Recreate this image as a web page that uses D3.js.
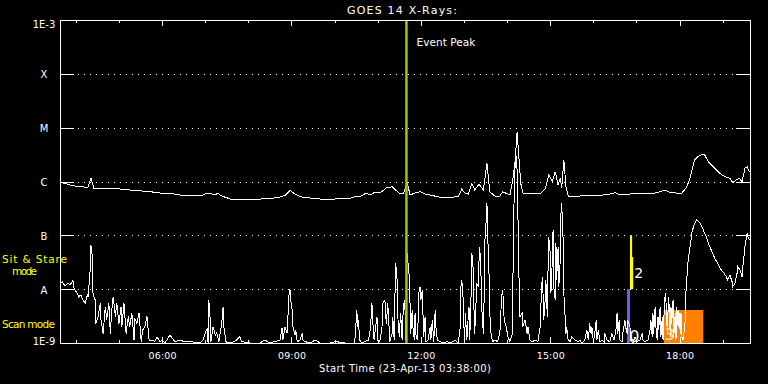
<!DOCTYPE html>
<html>
<head>
<meta charset="utf-8">
<script src="https://cdn.jsdelivr.net/npm/d3@7"></script>
<style>
  body { margin: 0; background: #000; }
  svg { display: block; background: #000; }
  text { font-family: "DejaVu Sans", sans-serif; fill: #fff; }
</style>
</head>
<body>
<div id="content"></div>
<script>
// time range of the plot (UT)
var startTime = "2013-04-23T03:38:00Z";
var endTime = "2013-04-23T19:38:00Z";
var eventPeak = "2013-04-23T11:40:00Z";

// flux levels on the y axis
var levelValues = [1e-9, 1e-8, 1e-7, 1e-6, 1e-5, 1e-4, 1e-3];
var levelLabels = ["1E-9", "A", "B", "C", "M", "X", "1E-3"];

// 1-8 A channel: [minutes after start, flux W/m2]
var longChannel = [[0,9.6e-7],[7,9.25e-7],[14,8.6e-7],[22,8.2e-7],[33,7.9e-7],[39,7.9e-7],[43,1.16e-6],[47,7.57e-7],[56,7.57e-7],[67,7.4e-7],[77,7.57e-7],[83,7.25e-7],[90,7.25e-7],[97,6.95e-7],[109,6.95e-7],[118,6.46e-7],[128,6.4e-7],[139,6.11e-7],[153,6.0e-7],[167,5.61e-7],[181,5.61e-7],[195,5.37e-7],[202,5.86e-7],[209,6.11e-7],[214,5.61e-7],[220,6.0e-7],[225,5.37e-7],[237,4.73e-7],[257,4.73e-7],[275,4.53e-7],[285,4.93e-7],[295,4.85e-7],[306,5.15e-7],[314,5.61e-7],[320,6.8e-7],[327,5.86e-7],[334,5.21e-7],[348,4.93e-7],[362,4.73e-7],[383,4.73e-7],[403,4.85e-7],[413,5.37e-7],[417,5.15e-7],[426,6.11e-7],[431,5.61e-7],[438,6.3e-7],[445,6.11e-7],[454,7.57e-7],[462,8.0e-7],[467,6.95e-7],[473,5.86e-7],[478,6.11e-7],[483,9.6e-7],[487,5.61e-7],[494,6.11e-7],[501,6.46e-7],[508,5.86e-7],[515,5.61e-7],[529,5.08e-7],[543,5.08e-7],[554,5.25e-7],[559,7.25e-7],[563,6.11e-7],[568,5.86e-7],[573,9.25e-7],[577,6.95e-7],[583,9.0e-7],[589,6.95e-7],[594,2.18e-6],[598,6.46e-7],[605,5.37e-7],[612,5.37e-7],[616,6.46e-7],[626,5.61e-7],[630,1.07e-6],[633,2.2e-6],[636,8.41e-6],[639,2.2e-6],[641,9.3e-7],[644,6.11e-7],[654,5.86e-7],[668,5.86e-7],[675,7.25e-7],[680,1.32e-6],[685,9.9e-7],[689,1.52e-6],[693,8.6e-7],[696,1.16e-6],[698,7.57e-7],[701,2.51e-6],[704,8.0e-7],[707,5.37e-7],[723,5.37e-7],[737,5.61e-7],[751,5.5e-7],[765,5.86e-7],[772,6.19e-7],[779,5.7e-7],[793,5.86e-7],[807,5.86e-7],[821,5.86e-7],[832,6.3e-7],[842,6.95e-7],[849,6.19e-7],[857,6.11e-7],[865,6.05e-7],[871,7.57e-7],[876,1.07e-6],[880,1.78e-6],[883,2.51e-6],[887,2.86e-6],[892,3.11e-6],[897,3.11e-6],[902,2.33e-6],[907,2.0e-6],[911,1.76e-6],[918,1.42e-6],[925,1.23e-6],[932,1.15e-6],[936,9.5e-7],[941,1.07e-6],[945,1.15e-6],[949,9.9e-7],[953,1.76e-6],[956,1.88e-6],[959,1.52e-6]];

// 0.5-4 A channel: [minutes after start, flux W/m2]
var shortChannel = [[0,1.2e-8],[3,1.38e-8],[7,1.15e-8],[11,1.31e-8],[14,1.2e-8],[18,1.44e-8],[19,1.1e-8],[21,9.6e-9],[24,8.4e-9],[26,7.2e-9],[29,7.8e-9],[32,6.3e-9],[35,5.5e-9],[38,7.8e-9],[39,7.2e-9],[42,2.27e-8],[43,6.6e-8],[45,4.0e-8],[46,7.8e-9],[49,6.3e-9],[50,2.3e-9],[53,3.1e-9],[56,5.5e-9],[57,2.7e-9],[60,1.5e-9],[63,4.7e-9],[65,2.7e-9],[68,5.5e-9],[70,1.5e-9],[72,4.1e-9],[74,7.2e-9],[77,3.1e-9],[79,5.5e-9],[82,2.3e-9],[85,4.7e-9],[86,2.0e-9],[89,5.5e-9],[92,1.5e-9],[95,3.1e-9],[97,2.0e-9],[100,3.6e-9],[103,1.13e-9],[104,2.9e-9],[107,2.3e-9],[110,3.6e-9],[113,1.06e-9],[115,1.74e-9],[118,2.0e-9],[121,3.1e-9],[124,1.13e-9],[128,1.13e-9],[132,1.06e-9],[135,1.31e-9],[139,1.06e-9],[142,1.13e-9],[146,1.0e-9],[153,1.4e-9],[160,1.06e-9],[167,1.13e-9],[173,1.06e-9],[181,1.06e-9],[195,1.0e-9],[199,1.13e-9],
  [202,1.53e-9],[205,1.9e-9],[206,1.0e-9],[207,6.3e-9],[209,2.67e-9],[210,1.06e-9],[213,2.0e-9],[216,1.4e-9],[218,1.53e-9],[221,1.06e-9],[225,2.3e-9],[227,4.72e-9],[228,2.0e-9],[231,1.06e-9],[234,1.0e-9],[243,1.06e-9],[250,1.31e-9],[253,1.06e-9],[264,1.0e-9],[278,1.0e-9],[285,1.13e-9],[289,1.06e-9],[292,1.0e-9],[306,1.13e-9],[309,1.9e-9],[310,1.13e-9],[313,2.0e-9],[316,1.53e-9],[319,9.9e-9],[320,9.9e-9],[321,6.3e-9],[323,4.1e-9],[324,2.0e-9],[327,1.4e-9],[328,1.74e-9],[330,1.06e-9],[334,1.13e-9],[337,1.53e-9],[338,1.13e-9],[341,1.06e-9],[348,1.0e-9],[355,1.13e-9],[362,1.0e-9],[376,1.0e-9],[384,1.06e-9],[397,1.0e-9],[410,1.0e-9],
  [413,4.1e-9],[414,2.0e-9],[415,2.67e-9],[417,1.13e-9],[420,1.0e-9],[424,1.06e-9],[429,1.13e-9],[431,1.5e-9],[433,3.08e-9],[434,5.46e-9],[435,2.67e-9],[437,1.13e-9],[438,1.5e-9],[441,3.08e-9],[442,1.13e-9],[445,1.06e-9],[448,2.0e-9],[449,5.46e-9],[452,6.29e-9],[454,2.3e-9],[456,5.46e-9],[459,1.06e-9],[462,1.5e-9],[463,3.08e-9],[465,1.13e-9],[466,7.24e-9],[467,3.02e-8],[469,1.48e-8],[470,3.08e-9],[472,1.31e-9],[473,2.3e-9],[474,3.56e-9],[476,1.13e-9],[477,3.08e-9],[479,6.29e-9],[480,4.1e-9],[481,1.13e-9],
  [483,4.63e-8],[486,1.7e-8],[487,5.46e-9],[488,1.5e-9],[490,4.1e-9],[491,2.0e-9],[493,1.13e-9],[494,3.56e-9],[495,1.5e-9],[497,1.13e-9],[498,2.0e-9],[499,8.37e-9],[501,1.11e-8],[502,6.29e-9],[504,9.64e-9],[505,3.56e-9],[506,1.3e-9],[508,3.08e-9],[509,1.06e-9],[512,1.13e-9],[515,2.0e-9],[516,1.13e-9],[518,2.67e-9],[520,1.06e-9],[522,4.1e-9],[523,2.0e-9],[525,1.13e-9],[529,1.06e-9],[533,1.0e-9],[538,1.06e-9],[543,1.0e-9],[550,1.13e-9],[554,1.0e-9],[557,2.0e-9],[558,1.28e-8],[559,1.48e-8],[561,6.29e-9],[562,2.0e-9],[563,1.06e-9],[564,3.56e-9],[566,1.13e-9],[568,3.08e-9],[569,4.72e-9],[570,1.13e-9],[572,8.37e-9],[573,4.63e-8],[575,2.27e-8],[576,4.1e-9],[577,1.5e-9],[579,6.29e-9],[580,1.28e-8],[582,1.11e-8],[583,3.48e-8],[584,6.15e-8],[586,1.48e-8],[587,4.1e-9],[589,1.5e-9],[590,6.29e-9],[591,7.11e-8],[593,1.93e-7],[594,3.94e-7],[595,1.09e-7],[597,1.7e-8],[598,3.56e-9],[600,1.31e-9],[602,1.06e-9],[605,1.13e-9],[609,1.06e-9],[612,1.53e-9],[614,5.46e-9],[615,8.37e-9],[616,9.64e-9],[618,2.67e-9],[621,2.0e-9],[623,1.31e-9],[626,1.06e-9],[629,1.4e-9],[630,1.11e-8],[632,8.0e-7],[634,3.53e-6],[636,1.63e-6],[637,2.95e-7],[639,8.37e-9],[640,3.08e-9],[643,3.56e-9],[644,2.0e-9],[647,2.67e-9],[650,1.5e-9],[651,2.0e-9],[654,1.13e-9],[657,1.06e-9],[661,1.13e-9],[665,1.06e-9],
  [668,2.0e-9],[669,4.72e-9],[671,1.7e-8],[672,8.37e-9],[673,2.67e-9],[675,6.29e-9],[676,1.48e-8],[678,3.08e-9],[679,2.27e-8],[680,9.42e-8],[682,4.63e-8],[683,8.37e-9],[685,3.48e-8],[686,1.26e-7],[687,1.11e-8],[689,6.29e-9],[690,7.11e-8],[691,1.48e-8],[693,6.15e-8],[694,1.11e-8],[696,3.48e-8],[697,2.56e-7],[698,3.94e-7],[700,8.19e-8],[701,8.37e-9],[703,2.67e-9],[704,1.5e-9],[705,2.0e-9],[707,1.13e-9],[710,1.06e-9],[712,1.31e-9],[717,1.13e-9],[721,1.06e-9],[723,1.13e-9],[726,1.0e-9],[730,1.13e-9],[733,1.74e-9],[735,1.13e-9],[737,2.3e-9],[739,1.5e-9],[740,2.0e-9],[742,1.06e-9],[744,1.5e-9],[746,2.67e-9],[747,1.13e-9],[749,1.74e-9],[751,1.06e-9],[754,1.13e-9],[757,1.06e-9],[758,1.5e-9],[761,1.13e-9],[765,1.06e-9],[768,1.5e-9],[771,1.13e-9],[774,2.0e-9],[775,3.56e-9],[776,1.5e-9],[778,2.67e-9],[779,1.13e-9],[782,1.06e-9],[783,1.5e-9],[786,2.67e-9],[787,2.0e-9],[789,1.5e-9],[790,2.67e-9],[793,2.0e-9],[794,1.13e-9],[797,1.0e-9],[800,1.31e-9],[803,1.06e-9],[807,1.13e-9],[810,1.5e-9],[811,1.13e-9],[814,1.06e-9],[818,1.13e-9],[821,1.74e-9],[822,2.67e-9],[824,1.31e-9],[825,3.56e-9],[826,1.5e-9],[828,4.72e-9],[829,2.0e-9],[831,1.13e-9],[832,3.08e-9],[833,1.74e-9],[835,4.72e-9],[836,1.31e-9],[838,3.08e-9],[839,1.13e-9],[840,2.67e-9],[842,8.37e-9],[843,6.29e-9],[845,1.5e-9],[846,4.1e-9],[847,7.24e-9],[849,1.31e-9],[850,4.72e-9],[851,2.3e-9],[853,6.29e-9],[854,1.31e-9],[856,3.56e-9],[857,1.13e-9],[858,4.72e-9],[860,2.0e-9],[861,4.1e-9],[863,1.5e-9],[864,3.56e-9],[865,1.31e-9],[867,1.13e-9],
  [870,2.67e-9],[871,9.64e-9],[874,3.5e-8],[877,6.6e-8],[879,1.09e-7],[882,1.56e-7],[886,1.93e-7],[889,1.79e-7],[892,1.56e-7],[895,1.26e-7],[899,9.42e-8],[903,6.6e-8],[907,4.97e-8],[911,3.74e-8],[915,3.02e-8],[920,2.27e-8],[924,1.97e-8],[927,1.7e-8],[929,1.48e-8],[932,1.83e-8],[935,1.38e-8],[936,1.11e-8],[939,1.28e-8],[942,1.97e-8],[943,2.61e-8],[946,2.27e-8],[949,1.7e-8],[950,2.61e-8],[953,6.15e-8],[956,1.09e-7],[957,9.42e-8],[959,8.2e-8]];

// observing mode bars: [start min, end min, low flux, high flux]
var sitStareBars = [[793, 796, 1e-8, 1e-7], [793, 797.5, 1e-8, 3.95e-8]];
var scanBars = [[789, 793, 1e-9, 1e-8]];
var scanBlocks = [[840, 895, 1e-9, 4.1e-9]];

// numbered markers
var markerText = ["2", "0", "3"];
var markerTime = [799, 792, 841];
var markerFlux = [1.61e-8, 1.06e-9, 1.13e-9];

var width = 768;
var height = 384;
var plotLeft = 60, plotRight = 750, plotTop = 20, plotBottom = 343;

var svg = d3.select("#content").append("svg")
  .attr("width", width)
  .attr("height", height);

var parseTime = d3.utcParse("%Y-%m-%dT%H:%M:%SZ");
var t0 = parseTime(startTime);
var t1 = parseTime(endTime);
function time(m) { return new Date(t0.getTime() + m * 60000); }

var x = d3.scaleUtc().domain([t0, t1]).range([plotLeft, plotRight]);
var y = d3.scaleLog().domain([1e-9, 1e-3]).range([plotBottom, plotTop]);

// dotted grid at flare levels
svg.append("g").selectAll("line")
  .data(levelValues.slice(1, 6))
  .enter().append("line")
  .attr("x1", plotLeft + 18).attr("x2", plotRight - 17)
  .attr("y1", function(d) { return Math.round(y(d)) + 0.5; })
  .attr("y2", function(d) { return Math.round(y(d)) + 0.5; })
  .attr("stroke", "#fff")
  .attr("stroke-dasharray", "1,5");

// scan block and mode bars
function drawBars(data, color) {
  svg.append("g").selectAll("rect")
    .data(data)
    .enter().append("rect")
    .attr("x", function(d) { return x(time(d[0])); })
    .attr("width", function(d) { return x(time(d[1])) - x(time(d[0])); })
    .attr("y", function(d) { return y(d[3]); })
    .attr("height", function(d) { return y(d[2]) - y(d[3]); })
    .attr("fill", color);
}
drawBars(scanBlocks, "#ff8000");
drawBars(scanBars, "#6464ff");
drawBars(sitStareBars, "#ffff00");

// flux curves
svg.append("clipPath").attr("id", "plot")
  .append("rect").attr("x", plotLeft).attr("y", plotTop)
  .attr("width", plotRight - plotLeft).attr("height", plotBottom - plotTop);

var line = d3.line()
  .x(function(d) { return x(time(d[0])); })
  .y(function(d) { return y(d[1]); });

[longChannel, shortChannel].forEach(function(series) {
  svg.append("path")
    .datum(series)
    .attr("d", line)
    .attr("clip-path", "url(#plot)")
    .attr("fill", "none")
    .attr("stroke", "#fff")
    .attr("stroke-width", 1)
    .attr("shape-rendering", "crispEdges");
});

// markers
svg.append("g").selectAll("text")
  .data(markerText)
  .enter().append("text")
  .attr("x", function(d, i) { return x(time(markerTime[i])); })
  .attr("y", function(d, i) { return y(markerFlux[i]); })
  .attr("font-size", function(d, i) { return i == 0 ? 14 : 16; })
  .style("fill", function(d, i) { return i == 2 ? "#ffe2c4" : "#fff"; })
  .text(function(d) { return d; });

// event peak line
var tp = parseTime(eventPeak);
svg.append("line")
  .attr("x1", x(tp)).attr("x2", x(tp))
  .attr("y1", plotTop).attr("y2", plotBottom)
  .attr("stroke", "#99cc00")
  .attr("stroke-width", 2.5);
svg.append("text")
  .attr("x", x(tp) + 10).attr("y", 46)
  .attr("font-size", 10.5)
  .attr("textLength", 59)
  .text("Event Peak");

// axes
function styleAxis(g) {
  g.selectAll("path, line").attr("stroke", "#fff").attr("shape-rendering", "crispEdges");
  g.selectAll("text").attr("fill", "#fff");
}

var hours3 = d3.utcHour.every(3);
var hours1 = d3.utcHour.every(1);

svg.append("g").attr("transform", "translate(0," + plotBottom + ")")
  .call(d3.axisBottom(x).ticks(hours3).tickSize(-6).tickSizeOuter(0).tickPadding(9)
    .tickFormat(d3.utcFormat("%H:%M")))
  .call(styleAxis)
  .call(function(g) {
    g.selectAll("text").attr("font-size", 9.5).attr("font-family", "DejaVu Sans").attr("textLength", 28);
  });
svg.append("g").attr("transform", "translate(0," + plotBottom + ")")
  .call(d3.axisBottom(x).ticks(hours1).tickSize(-3).tickSizeOuter(0).tickFormat(""))
  .call(styleAxis);
svg.append("g").attr("transform", "translate(0," + plotTop + ")")
  .call(d3.axisTop(x).ticks(hours3).tickSize(-6).tickSizeOuter(0).tickFormat(""))
  .call(styleAxis);
svg.append("g").attr("transform", "translate(0," + plotTop + ")")
  .call(d3.axisTop(x).ticks(hours1).tickSize(-3).tickSizeOuter(0).tickFormat(""))
  .call(styleAxis);

svg.append("g").attr("transform", "translate(" + plotLeft + ",0)")
  .call(d3.axisLeft(y).tickValues(levelValues).tickSize(-14).tickSizeOuter(0).tickPadding(16)
    .tickFormat(function(d, i) { return levelLabels[i]; }))
  .call(styleAxis)
  .call(function(g) {
    g.selectAll("text")
      .attr("font-size", 10)
      .attr("font-family", "DejaVu Sans")
      .attr("text-anchor", "middle")
      .attr("dy", "0.4em")
      .attr("y", function(d, i) { return i == 0 ? -3 : (i == 6 ? 3 : 0); });
  });
svg.append("g").attr("transform", "translate(" + plotRight + ",0)")
  .call(d3.axisRight(y).tickValues(levelValues).tickSize(-14).tickSizeOuter(0).tickFormat(""))
  .call(styleAxis);

// titles
svg.append("text")
  .attr("x", 402).attr("y", 13.5)
  .attr("text-anchor", "middle")
  .attr("font-size", 11)
  .attr("textLength", 110)
  .text("GOES 14 X-Rays:");
svg.append("text")
  .attr("x", 405).attr("y", 371.5)
  .attr("text-anchor", "middle")
  .attr("font-size", 10)
  .attr("textLength", 172)
  .text("Start Time (23-Apr-13 03:38:00)");

// mode labels
var modeLabels = svg.append("g").attr("font-size", 10.5);
modeLabels.append("text").attr("x", 2).attr("y", 262.5).attr("textLength", 65)
  .style("fill", "#ffff00").text("Sit & Stare");
modeLabels.append("text").attr("x", 12).attr("y", 274.5).attr("textLength", 25)
  .style("fill", "#ffff00").text("mode");
modeLabels.append("text").attr("x", 2).attr("y", 327.5).attr("textLength", 53)
  .style("fill", "#ffff00").text("Scan mode");
</script>
</body>
</html>
